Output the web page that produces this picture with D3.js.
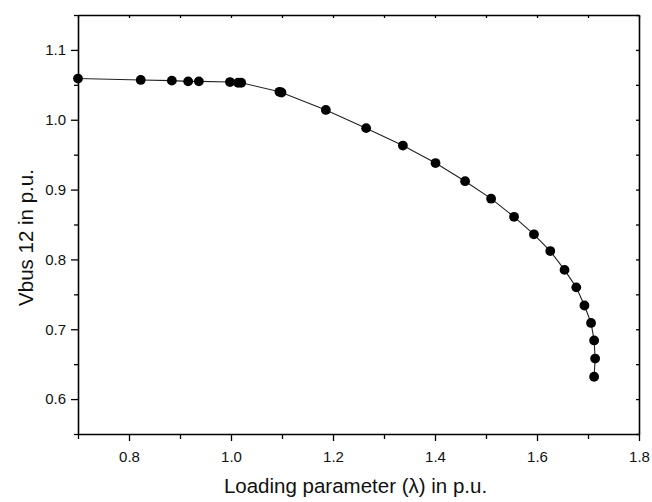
<!DOCTYPE html>
<html>
<head>
<meta charset="utf-8">
<script src="https://cdn.jsdelivr.net/npm/d3@7"></script>
<style>
  html, body { margin: 0; padding: 0; background: #fff; }
  svg { display: block; font-family: "Liberation Sans", Arial, Helvetica, sans-serif; }
</style>
</head>
<body>
<svg id="chart" width="652" height="502"></svg>
<script>
// P-V curve at bus 12: loading parameter vs. bus voltage magnitude
const lambda = [0.700, 0.823, 0.884, 0.916, 0.937, 0.998, 1.014, 1.020, 1.095, 1.099,
                1.186, 1.265, 1.337, 1.401, 1.459, 1.510, 1.555, 1.594, 1.626, 1.654,
                1.677, 1.693, 1.706, 1.712, 1.714, 1.712];
const vbus = [1.059, 1.057, 1.056, 1.055, 1.055, 1.054, 1.053, 1.053, 1.040, 1.039,
              1.014, 0.988, 0.963, 0.938, 0.912, 0.887, 0.861, 0.836, 0.812, 0.785,
              0.760, 0.734, 0.709, 0.684, 0.658, 0.632];

const xMajorTicks = [0.8, 1.0, 1.2, 1.4, 1.6, 1.8];
const xMinorTicks = [0.7, 0.9, 1.1, 1.3, 1.5, 1.7];
const yMajorTicks = [0.6, 0.7, 0.8, 0.9, 1.0, 1.1];
const yMinorTicks = [0.55, 0.65, 0.75, 0.85, 0.95, 1.05, 1.15];

const xTitle = "Loading parameter (\u03bb) in p.u.";
const yTitle = "Vbus 12 in p.u.";

const svg = d3.select("#chart");
const plotLeft = 78, plotRight = 639, plotTop = 15, plotBottom = 434;

const x = d3.scaleLinear().domain([0.7, 1.8]).range([plotLeft, plotRight]);
const y = d3.scaleLinear().domain([0.55, 1.15]).range([plotBottom, plotTop]);

const fmt = d3.format(".1f");

// bottom axis: labelled major ticks, unlabelled minor ticks
const gx = svg.append("g").attr("transform", `translate(0,${plotBottom})`);
gx.call(d3.axisBottom(x).tickValues(xMajorTicks).tickFormat(fmt).tickSize(7).tickSizeOuter(0).tickPadding(10));
gx.append("g").call(d3.axisBottom(x).tickValues(xMinorTicks).tickFormat("").tickSize(5).tickSizeOuter(0))
  .select(".domain").remove();

// left axis
const gy = svg.append("g").attr("transform", `translate(${plotLeft},0)`);
gy.call(d3.axisLeft(y).tickValues(yMajorTicks).tickFormat(fmt).tickSize(7).tickSizeOuter(0).tickPadding(5));
gy.append("g").call(d3.axisLeft(y).tickValues(yMinorTicks).tickFormat("").tickSize(4).tickSizeOuter(0))
  .select(".domain").remove();

// top and right frame with small inward ticks
const gt = svg.append("g").attr("transform", `translate(0,${plotTop})`);
gt.call(d3.axisTop(x).tickValues(xMajorTicks.concat(xMinorTicks)).tickFormat("").tickSize(-3).tickSizeOuter(0));
const gr = svg.append("g").attr("transform", `translate(${plotRight},0)`);
gr.call(d3.axisRight(y).tickValues(yMajorTicks.concat(yMinorTicks)).tickFormat("").tickSize(-3).tickSizeOuter(0));

svg.selectAll(".domain").attr("stroke", "#000").attr("stroke-width", 1.6);
svg.selectAll(".tick line").attr("stroke", "#000").attr("stroke-width", 1.3);
svg.selectAll(".tick text").attr("fill", "#111").style("font-size", "15px")
  .style("font-family", "'Liberation Sans', Arial, Helvetica, sans-serif");

// axis titles
svg.append("text")
  .attr("x", (plotLeft + plotRight) / 2 - 3).attr("y", 493)
  .attr("text-anchor", "middle")
  .style("font-size", "20.5px").attr("fill", "#111")
  .text(xTitle);

svg.append("text")
  .attr("transform", `translate(33,${(plotTop + plotBottom) / 2 + 13}) rotate(-90)`)
  .attr("text-anchor", "middle")
  .style("font-size", "20.5px").attr("fill", "#111")
  .text(yTitle);

// curve and markers
const pts = lambda.map((l, i) => [l, vbus[i]]);
const line = d3.line().x(d => x(d[0])).y(d => y(d[1]));

svg.append("path")
  .datum(pts)
  .attr("d", line)
  .attr("fill", "none")
  .attr("stroke", "#222")
  .attr("stroke-width", 1.1);

svg.append("g").selectAll("circle")
  .data(pts)
  .join("circle")
  .attr("cx", d => x(d[0]))
  .attr("cy", d => y(d[1]))
  .attr("r", 4.9)
  .attr("fill", "#000");
</script>
</body>
</html>
